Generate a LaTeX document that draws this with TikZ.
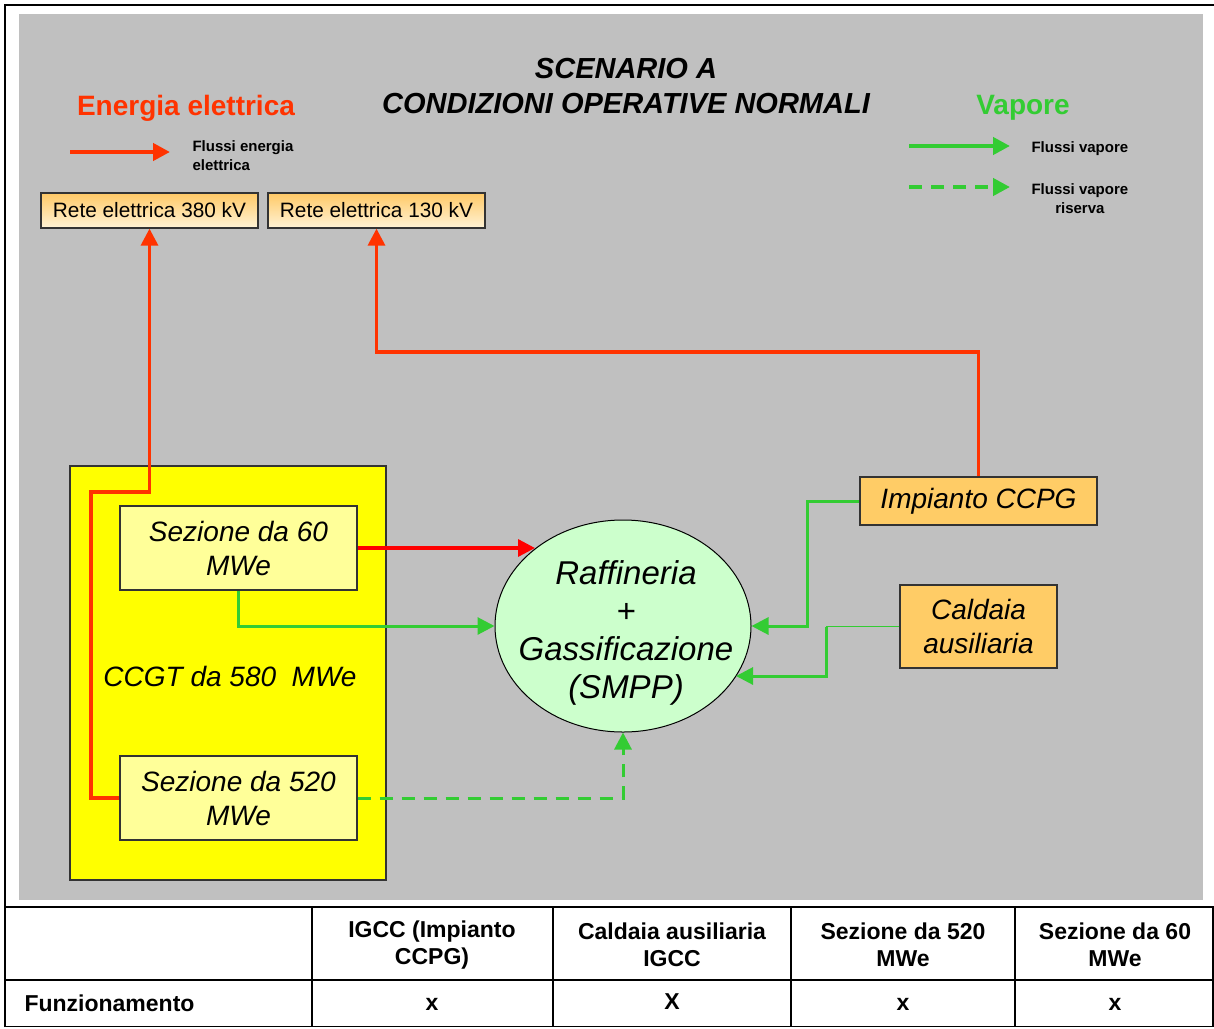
\documentclass[tikz,border=0pt]{standalone}
\usepackage{fontspec}
\setmainfont{Liberation Sans}
\usetikzlibrary{shapes.geometric,arrows.meta,calc}
\definecolor{panelgrey}{HTML}{C0C0C0}
\definecolor{elred}{HTML}{FF3300}
\definecolor{vgreen}{HTML}{33CC33}
\definecolor{ccgtyellow}{HTML}{FFFF00}
\definecolor{lightyellow}{HTML}{FFFF99}
\definecolor{lightgreen}{HTML}{CCFFCC}
\definecolor{boxorange}{HTML}{FFCC66}
\definecolor{gradtop}{HTML}{FFC966}
\definecolor{gradbot}{HTML}{FFF3D6}
\definecolor{edgegrey}{HTML}{333333}
\begin{document}
\begin{tikzpicture}[x=1pt,y=-1pt,
  fbig/.style={font=\fontsize{28}{34}\selectfont\itshape},
  boxbase/.style={draw=edgegrey,line width=1.3pt,inner sep=0pt,align=center},
  retebox/.style={boxbase,minimum width=217pt,minimum height=35pt,top color=gradtop,bottom color=gradbot,font=\fontsize{20.8}{24}\selectfont},
  sezbox/.style={boxbase,fill=lightyellow,minimum width=237pt,minimum height=84pt,fbig},
  orangebox/.style={boxbase,fill=boxorange,fbig},
  redline/.style={draw=elred,line width=3.3pt},
  greenline/.style={draw=vgreen,line width=3pt},
  thingreen/.style={draw=vgreen,line width=1.5pt},
  tip/.style={-{Triangle[length=17pt,width=17pt]}},
  legtext/.style={font=\fontsize{15}{19}\selectfont\bfseries,align=left,anchor=west},
  tabtext/.style={font=\fontsize{23}{27}\selectfont\bfseries,align=center}
]
\useasboundingbox (0,0) rectangle (1214,1028);
\fill[white] (0,0) rectangle (1214,1028);
% frame and panel
\fill[panelgrey] (19,14) rectangle (1203,900);
\draw[line width=2pt] (5,1027) -- (5,5) -- (1214,5);
% titles
\node[font=\fontsize{29}{35}\selectfont\bfseries\itshape,align=center] (title) at (626,86) {SCENARIO A\\CONDIZIONI OPERATIVE NORMALI};
\node[font=\fontsize{28}{34}\selectfont\bfseries,text=elred] (elet) at (186,108) {Energia elettrica};
\node[font=\fontsize{28}{34}\selectfont\bfseries,text=vgreen] (vap) at (1023,108) {Vapore};
% legend
\coordinate (lr1) at (70,152);
\coordinate (lr2) at (170,152);
\draw[redline,line width=4.5pt,tip] (lr1) -- (lr2);
\node[legtext] (lrt) at (189,156) {Flussi energia\\elettrica};
\coordinate (lg1) at (909,146);
\coordinate (lg2) at (1010,146);
\draw[greenline,line width=4.5pt,tip] (lg1) -- (lg2);
\node[legtext] (lgt) at (1028,149) {Flussi vapore};
\coordinate (ld1) at (909,187);
\coordinate (ld2) at (1010,187);
\draw[greenline,line width=4.5pt,dashed,dash pattern=on 13pt off 9pt,tip] (ld1) -- (ld2);
\node[legtext,align=center] (ldt) at (1028,199) {Flussi vapore\\riserva};
% grid boxes
\node[retebox] (r380) at (149.5,210.5) {Rete elettrica 380 kV};
\node[retebox] (r130) at (376.5,210.5) {Rete elettrica 130 kV};
% CCGT
\node[boxbase,fill=ccgtyellow,minimum width=316pt,minimum height=414pt] (ccgt) at (228,673) {};
\node[fbig] (ccgtlab) at (230,676) {CCGT da 580\ \ MWe};
\node[sezbox] (s60) at (238.5,548) {Sezione da 60\\MWe};
\node[sezbox] (s520) at (238.5,798) {Sezione da 520\\MWe};
% ellipse
\node[ellipse,draw=black,line width=1pt,fill=lightgreen,minimum width=256pt,minimum height=212pt,inner sep=0pt] (ell) at (623,626) {};
\node[font=\fontsize{33}{38}\selectfont\itshape,align=center] (elltext) at (626,633) {Raffineria\\+\\Gassificazione\\(SMPP)};
% right boxes
\node[orangebox,minimum width=237pt,minimum height=48pt] (imp) at (978.5,501) {Impianto CCPG};
\node[orangebox,minimum width=157pt,minimum height=83pt] (cal) at (978.5,626.5) {Caldaia\\ausiliaria};
% red connectors
\coordinate (j1) at (91,492);
\draw[redline,tip] (s520.west) -| (j1) -| (r380.south);
\coordinate (j2) at (376.5,352);
\draw[redline,tip] (imp.north) |- (j2) -- (r130.south);
\coordinate (e1) at ($(ell.center)+(-88,-78)$);
\draw[draw=red,line width=3.3pt,tip] (s60.east) -- (s60.east -| e1);
% green connectors
\draw[greenline,tip] (s60.south) |- (ell.west);
\coordinate (j3) at (807,501);
\draw[greenline,tip] (imp.west) -- (j3) |- (ell.east);
\coordinate (j4) at (826,626.5);
\coordinate (j5) at (826,676);
\coordinate (e2) at ($(ell.center)+(113,50)$);
\draw[thingreen] (cal.west) -- (j4);
\draw[greenline,tip] (j4) -- (j5) -- (j5 -| e2);
\draw[greenline,dashed,dash pattern=on 13pt off 9pt,tip] (s520.east) -| (ell.south);
% table
\draw[line width=2pt] (5,907) -- (1214,907);
\draw[line width=1.3pt] (5,980) -- (1214,980);
\draw[line width=1.3pt] (5,1026.5) -- (1214,1026.5);
\foreach \xx in {312,553,791,1015}{\draw[line width=1.3pt] (\xx,907) -- (\xx,1026.5);}
\draw[line width=1.3pt] (1213,907) -- (1213,1026.5);
\node[tabtext] (h1) at (432,945) {IGCC (Impianto\\CCPG)};
\node[tabtext] (h2) at (672,945) {Caldaia ausiliaria\\IGCC};
\node[tabtext] (h3) at (903,945) {Sezione da 520\\MWe};
\node[tabtext] (h4) at (1115,945) {Sezione da 60\\MWe};
\node[tabtext,anchor=west] (f0) at (21,1003) {Funzionamento};
\node[tabtext] (f1) at (432,1004) {x};
\node[tabtext] (f2) at (672,1002) {X};
\node[tabtext] (f3) at (903,1004) {x};
\node[tabtext] (f4) at (1115,1004) {x};
\end{tikzpicture}
\end{document}
